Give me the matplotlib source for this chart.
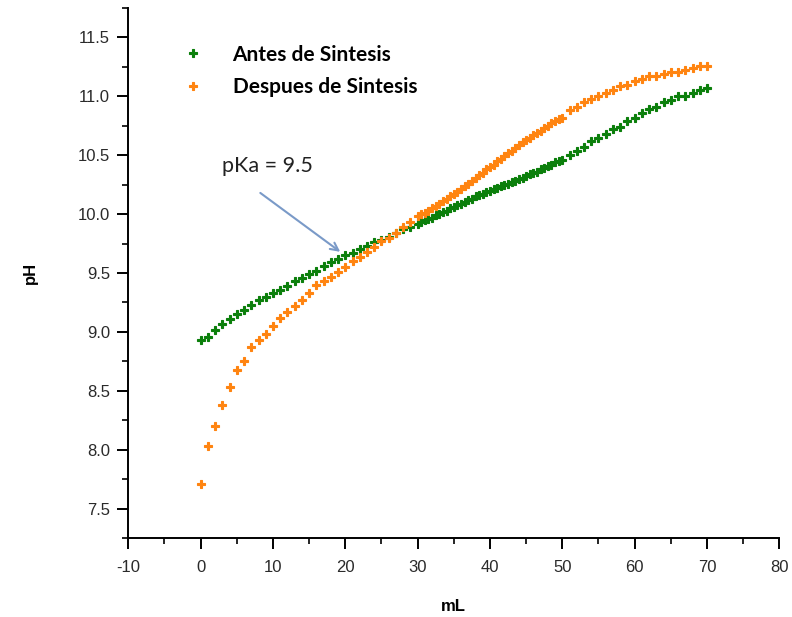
import numpy as np
import matplotlib.pyplot as plt
from matplotlib.ticker import MultipleLocator

plt.rcParams['axes.unicode_minus'] = False

# Antes de Sintesis (green)
ml_antes = [0, 1, 2, 3, 4, 5, 6, 7, 8, 9, 10, 11, 12, 13, 14, 15, 16, 17, 18, 19,
            20, 21, 22, 23, 24, 25, 26, 27, 28, 29,
            30.0, 30.5, 31.0, 31.5, 32.0, 32.5, 33.0, 33.5, 34.0, 34.5, 35.0, 35.5,
            36.0, 36.5, 37.0, 37.5, 38.0, 38.5, 39.0, 39.5, 40.0, 40.5, 41.0, 41.5,
            42.0, 42.5, 43.0, 43.5, 44.0, 44.5, 45.0, 45.5, 46.0, 46.5, 47.0, 47.5,
            48.0, 48.5, 49.0, 49.5, 50.0,
            51, 52, 53, 54, 55, 56, 57, 58, 59, 60, 61, 62, 63, 64, 65, 66, 67, 68, 69, 70]
ph_antes = [8.93, 8.96, 9.02, 9.07, 9.11, 9.15, 9.19, 9.23, 9.27, 9.30, 9.33, 9.36, 9.39,
            9.43, 9.46, 9.49, 9.52, 9.56, 9.59, 9.62, 9.65, 9.67, 9.70, 9.73, 9.76, 9.78,
            9.81, 9.84, 9.87, 9.89,
            9.92, 9.93, 9.95, 9.96, 9.97, 9.99, 10.00, 10.02, 10.03, 10.05, 10.06, 10.08,
            10.09, 10.10, 10.12, 10.13, 10.15, 10.16, 10.17, 10.19, 10.20, 10.21, 10.22,
            10.24, 10.25, 10.26, 10.27, 10.28, 10.30, 10.31, 10.32, 10.34, 10.35, 10.36,
            10.38, 10.39, 10.41, 10.42, 10.44, 10.45, 10.46,
            10.50, 10.54, 10.57, 10.62, 10.65, 10.68, 10.72, 10.74, 10.79, 10.82, 10.86,
            10.89, 10.91, 10.95, 10.97, 11.00, 11.00, 11.03, 11.05, 11.07]

# Despues de Sintesis (orange)
ml_despues = list(ml_antes)
ph_despues = [7.71, 8.03, 8.20, 8.38, 8.53, 8.68, 8.75, 8.87, 8.93, 8.98, 9.05, 9.12, 9.17,
              9.22, 9.27, 9.33, 9.40, 9.43, 9.47, 9.51, 9.55, 9.60, 9.64, 9.68, 9.72, 9.77,
              9.80, 9.84, 9.89, 9.93,
              9.98, 10.00, 10.01, 10.03, 10.05, 10.07, 10.09, 10.11, 10.13, 10.15, 10.17,
              10.19, 10.21, 10.24, 10.26, 10.28, 10.31, 10.33, 10.35, 10.38, 10.40, 10.42,
              10.45, 10.47, 10.49, 10.52, 10.54, 10.56, 10.59, 10.61, 10.63, 10.65, 10.67,
              10.69, 10.71, 10.73, 10.75, 10.77, 10.79, 10.81, 10.82,
              10.88, 10.91, 10.95, 10.98, 11.00, 11.03, 11.05, 11.09, 11.10, 11.13, 11.15,
              11.17, 11.17, 11.19, 11.21, 11.21, 11.22, 11.24, 11.26, 11.26]

green = '#0b7f0b'
orange = '#ff8410'

fig = plt.figure(figsize=(7.92, 6.17), dpi=100)
ax = fig.add_axes([0.162, 0.128, 0.822, 0.859])

ax.plot(ml_antes, ph_antes, linestyle='none', marker='P', markersize=5.5,
        color=green, markeredgecolor=green, markeredgewidth=0.8,
        label='Antes de Sintesis')
ax.plot(ml_despues, ph_despues, linestyle='none', marker='P', markersize=5.5,
        color=orange, markeredgecolor=orange, markeredgewidth=0.8,
        label='Despues de Sintesis')

ax.set_xlim(-10, 80)
ax.set_ylim(7.25, 11.75)
ax.xaxis.set_major_locator(MultipleLocator(10))
ax.xaxis.set_minor_locator(MultipleLocator(5))
ax.yaxis.set_major_locator(MultipleLocator(0.5))
ax.yaxis.set_minor_locator(MultipleLocator(0.25))
ax.yaxis.set_major_formatter(plt.FormatStrFormatter('%.1f'))

for side in ['top', 'right']:
    ax.spines[side].set_visible(False)
for side in ['left', 'bottom']:
    ax.spines[side].set_linewidth(1.4)

ax.tick_params(which='major', direction='out', length=8, width=1.4,
               labelsize=12, pad=5)
ax.tick_params(axis='x', which='major', pad=8)
ax.tick_params(which='minor', direction='out', length=4, width=1.2)
for lbl in ax.get_xticklabels() + ax.get_yticklabels():
    lbl.set_fontfamily('Liberation Sans')
    lbl.set_color('#2a2a2a')

ax.set_xlabel('mL', fontsize=12, fontweight='bold', family='Liberation Sans', va='center')
ax.set_ylabel('pH', fontsize=12, fontweight='bold', family='Liberation Sans', va='center')
ax.xaxis.set_label_coords(0.5, -0.130)
ax.yaxis.set_label_coords(-0.151, 0.5)

leg = ax.legend(loc='upper left', bbox_to_anchor=(0.045, 0.966), frameon=False,
                prop={'family': 'Lato', 'weight': 'bold', 'size': 15},
                handletextpad=1.1, handlelength=1.6, labelspacing=0.6)

# pKa annotation
ax.text(3.0, 10.41, 'pKa = 9.5', fontsize=15.5, family='Lato', va='center',
        ha='left', color='#222222')
ax.annotate('', xy=(19.3, 9.68), xytext=(8.25, 10.18),
            arrowprops=dict(arrowstyle='->', color='#7a9ac8', lw=1.5,
                            shrinkA=0, shrinkB=0, mutation_scale=14))

fig.savefig('out.png', dpi=100)
